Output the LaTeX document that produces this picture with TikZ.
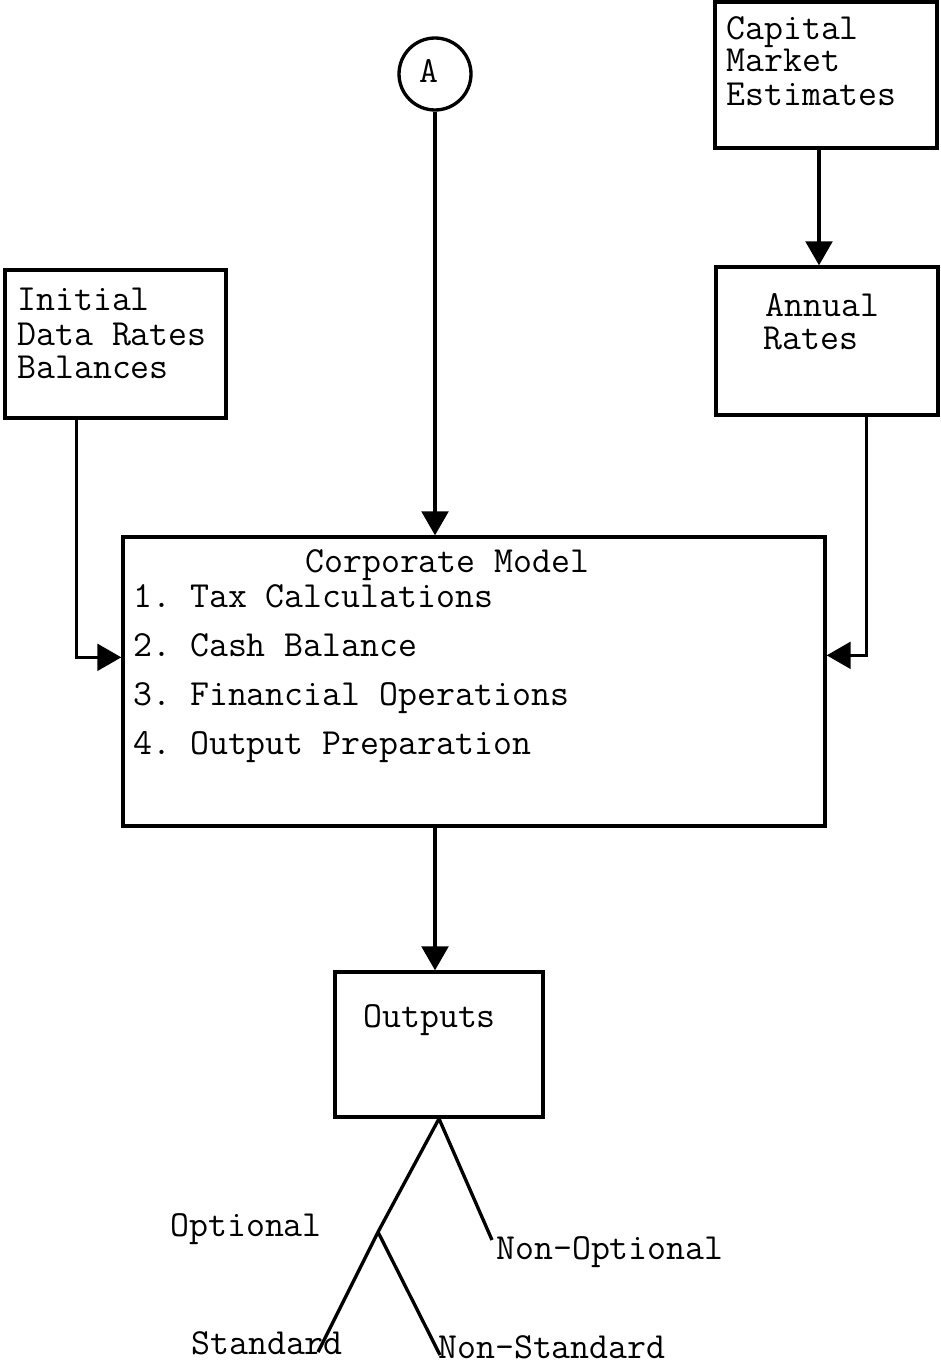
\documentclass[tikz,border=0pt]{standalone}
\usepackage{fontspec}
\usetikzlibrary{arrows.meta,calc,fit}
\begin{document}
\begin{tikzpicture}[x=0.75pt,y=-0.75pt,
  box/.style={draw,line width=2.5pt,inner sep=0pt},
  lbl/.style={anchor=base west,inner sep=0pt,font=\ttfamily\fontsize{27.6}{28}\selectfont},
  link/.style={line width=2.5pt},
  arr/.style={link,-{Triangle[length=18pt,width=20pt]}}]
\useasboundingbox (0,0) rectangle (941,1363);

% boxes
\node[box,fit={(715,2)(937,148)}] (cap) {};
\node[box,fit={(716,267)(938,415)}] (annual) {};
\node[box,fit={(5,270)(226,418)}] (initial) {};
\node[box,fit={(123,537)(825,826)}] (corp) {};
\node[box,fit={(335,972)(543,1117)}] (outputs) {};
\node[draw,line width=2.5pt,circle,minimum size=54pt,inner sep=0pt] (A) at (435,74) {};

% texts
\node[lbl] (tA) at (419,83) {A};
\node[lbl] (c1) at (726,40) {Capital};
\node[lbl] (c2) at (726,72) {Market};
\node[lbl] (c3) at (726,105) {Estimates};
\node[lbl] (a1) at (765,316) {Annual};
\node[lbl] (a2) at (763,349) {Rates};
\node[lbl] (i1) at (17,310) {Initial};
\node[lbl] (i2) at (17,345) {Data Rates};
\node[lbl] (i3) at (17,378) {Balances};
\node[lbl] (m0) at (305,572) {Corporate Model};
\node[lbl] (m1) at (133,607) {1.\ Tax Calculations};
\node[lbl] (m2) at (133,656) {2.\ Cash Balance};
\node[lbl] (m3) at (133,705) {3.\ Financial Operations};
\node[lbl] (m4) at (133,754) {4.\ Output Preparation};
\node[lbl] (o1) at (363,1027) {Outputs};
\node[lbl] (opt) at (170,1236) {Optional};
\node[lbl] (nopt) at (496,1259) {Non-Optional};
\node[lbl] (std) at (191,1354) {Standard};
\node[lbl] (nstd) at (438,1358) {Non-Standard};

% connectors
\draw[arr] (cap.south -| 819,0) -- (annual.north -| 819,0);
\draw[arr] (A.south) -- (A.south |- corp.north);
\draw[arr] ($(initial.south west)+(73,0)$) |- ($(corp.north west)+(0,122)$);
\draw[arr] ($(annual.south west)+(152,0)$) |- ($(corp.north east)+(0,120)$);
\draw[arr] (A |- corp.south) -- (A |- outputs.north);

% output tree
\coordinate (apex) at (outputs.south);
\coordinate (br) at (378,1232);
\coordinate (nopt-end) at (492,1240);
\coordinate (std-end) at (318,1352);
\coordinate (nstd-end) at (440,1355);
\draw[link] (apex) -- (nopt-end);
\draw[link] (apex) -- (br) -- (std-end);
\draw[link] (br) -- (nstd-end);
\end{tikzpicture}
\end{document}
